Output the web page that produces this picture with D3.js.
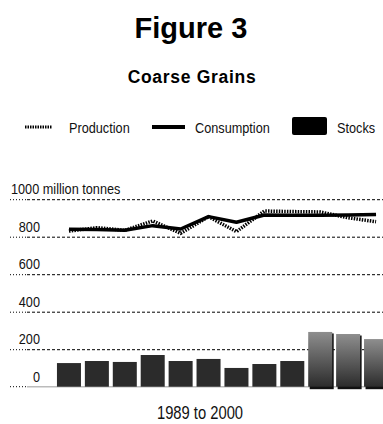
<!DOCTYPE html>
<html>
<head>
<meta charset="utf-8">
<script src="https://cdn.jsdelivr.net/npm/d3@7"></script>
<style>
  html, body { margin: 0; padding: 0; background: #fff; }
  svg { display: block; }
  .title { font-family: "Liberation Sans", Arial, sans-serif; font-weight: bold; fill: #000; }
  .lbl { font-family: "Liberation Sans", Arial, sans-serif; fill: #111; }
</style>
</head>
<body>
<svg id="chart" width="383" height="424"></svg>
<script>
// Coarse grains, world totals in million tonnes
const years = ["1989","1990","1991","1992","1993","1994","1995","1996","1997","1998","1999","2000"];
const production  = [830, 848, 834, 884, 818, 907, 827, 937, 934, 932, 901, 880];
const consumption = [840, 838, 834, 859, 841, 907, 877, 916, 915, 915, 916, 918];
const stocks      = [126, 137, 132, 169, 137, 148, 100, 121, 137, 292, 281, 254];
const projected   = [false,false,false,false,false,false,false,false,false,true,true,true];
const yTicks = [0, 200, 400, 600, 800, 1000];

const svg = d3.select("#chart");
const W = 383;

// condensed label helper: regular sans squeezed horizontally
function narrowText(parent, x, y, size, str, anchor) {
  return parent.append("text").attr("class", "lbl")
    .attr("transform", `translate(${x},${y}) scale(0.82,1)`)
    .attr("font-size", size)
    .attr("text-anchor", anchor || "start")
    .text(str);
}

// gradient used for the projected stock bars
const defs = svg.append("defs");
const grad = defs.append("linearGradient").attr("id", "projGrad")
  .attr("x1", 0).attr("y1", 0).attr("x2", 0).attr("y2", 1);
grad.append("stop").attr("offset", "0%").attr("stop-color", "#8e8e8e");
grad.append("stop").attr("offset", "100%").attr("stop-color", "#2c2c2c");

// titles
svg.append("text").attr("class", "title").attr("x", 191).attr("y", 38)
  .attr("text-anchor", "middle").attr("font-size", 29).text("Figure 3");
svg.append("text").attr("class", "title").attr("x", 192).attr("y", 83)
  .attr("text-anchor", "middle").attr("font-size", 17.5)
  .attr("letter-spacing", 0.7).text("Coarse Grains");

// legend
const lg = svg.append("g");
lg.append("line").attr("x1", 25).attr("x2", 52).attr("y1", 127).attr("y2", 127)
  .attr("stroke", "#000").attr("stroke-width", 3).attr("stroke-dasharray", "1.5,1");
narrowText(lg, 69, 133, 15.5, "Production");
lg.append("line").attr("x1", 152).attr("x2", 185).attr("y1", 127).attr("y2", 127)
  .attr("stroke", "#000").attr("stroke-width", 4);
narrowText(lg, 195, 133, 15.5, "Consumption");
lg.append("rect").attr("x", 292).attr("y", 117).attr("width", 35).attr("height", 18)
  .attr("rx", 2).attr("fill", "#000");
narrowText(lg, 337, 133, 15.5, "Stocks");

// scales
const x = d3.scaleBand().domain(years).range([55, 390]).paddingInner(0.14).paddingOuter(0.07);
const y = d3.scaleLinear().domain([0, 1000]).range([386.7, 199.2]);

// gridlines with labels sitting above them
const grid = svg.append("g");
yTicks.forEach(t => {
  if (t === 0) {
    grid.append("line").attr("x1", 10).attr("x2", 27).attr("y1", y(t)).attr("y2", y(t))
      .attr("stroke", "#000").attr("stroke-width", 1).attr("stroke-dasharray", "1,2");
    grid.append("line").attr("x1", 27).attr("x2", W).attr("y1", y(t)).attr("y2", y(t))
      .attr("stroke", "#bbb").attr("stroke-width", 1.5);
  } else {
    grid.append("line").attr("x1", 10).attr("x2", 27).attr("y1", y(t) + 0.5).attr("y2", y(t) + 0.5)
      .attr("stroke", "#000").attr("stroke-width", 1).attr("stroke-dasharray", "1,2");
    grid.append("line").attr("x1", 27).attr("x2", W).attr("y1", y(t) + 0.5).attr("y2", y(t) + 0.5)
      .attr("stroke", "#000").attr("stroke-width", 1).attr("stroke-dasharray", "3,2");
  }
  if (t === 1000) {
    narrowText(grid, 11, y(t) - 5, 15.5, t + " million tonnes");
  } else {
    narrowText(grid, 40, y(t) - 5, 15.5, String(t), "end");
  }
});

// stock bars
const bars = svg.append("g");
years.forEach((yr, i) => {
  if (projected[i]) {
    bars.append("rect").attr("x", x(yr) + 1.5).attr("y", y(stocks[i]) + 1.5)
      .attr("width", x.bandwidth()).attr("height", y(0) - y(stocks[i]) + 1)
      .attr("fill", "#111");
  }
  bars.append("rect").attr("x", x(yr)).attr("y", y(stocks[i]))
    .attr("width", x.bandwidth()).attr("height", y(0) - y(stocks[i]))
    .attr("fill", projected[i] ? "url(#projGrad)" : "#2b2b2b");
});

// production and consumption lines
const cx = yr => x(yr) + x.bandwidth() / 2;
const line = vals => d3.line().x((d, i) => cx(years[i])).y(d => y(d))(vals);

svg.append("path").attr("d", line(consumption)).attr("fill", "none")
  .attr("stroke", "#000").attr("stroke-width", 3.5).attr("stroke-linejoin", "round");
svg.append("path").attr("d", line(production)).attr("fill", "none")
  .attr("stroke", "#000").attr("stroke-width", 3.5).attr("stroke-dasharray", "1.5,1.2");

// x-axis caption
narrowText(svg, 200, 419, 18, "1989 to 2000", "middle");
</script>
</body>
</html>
